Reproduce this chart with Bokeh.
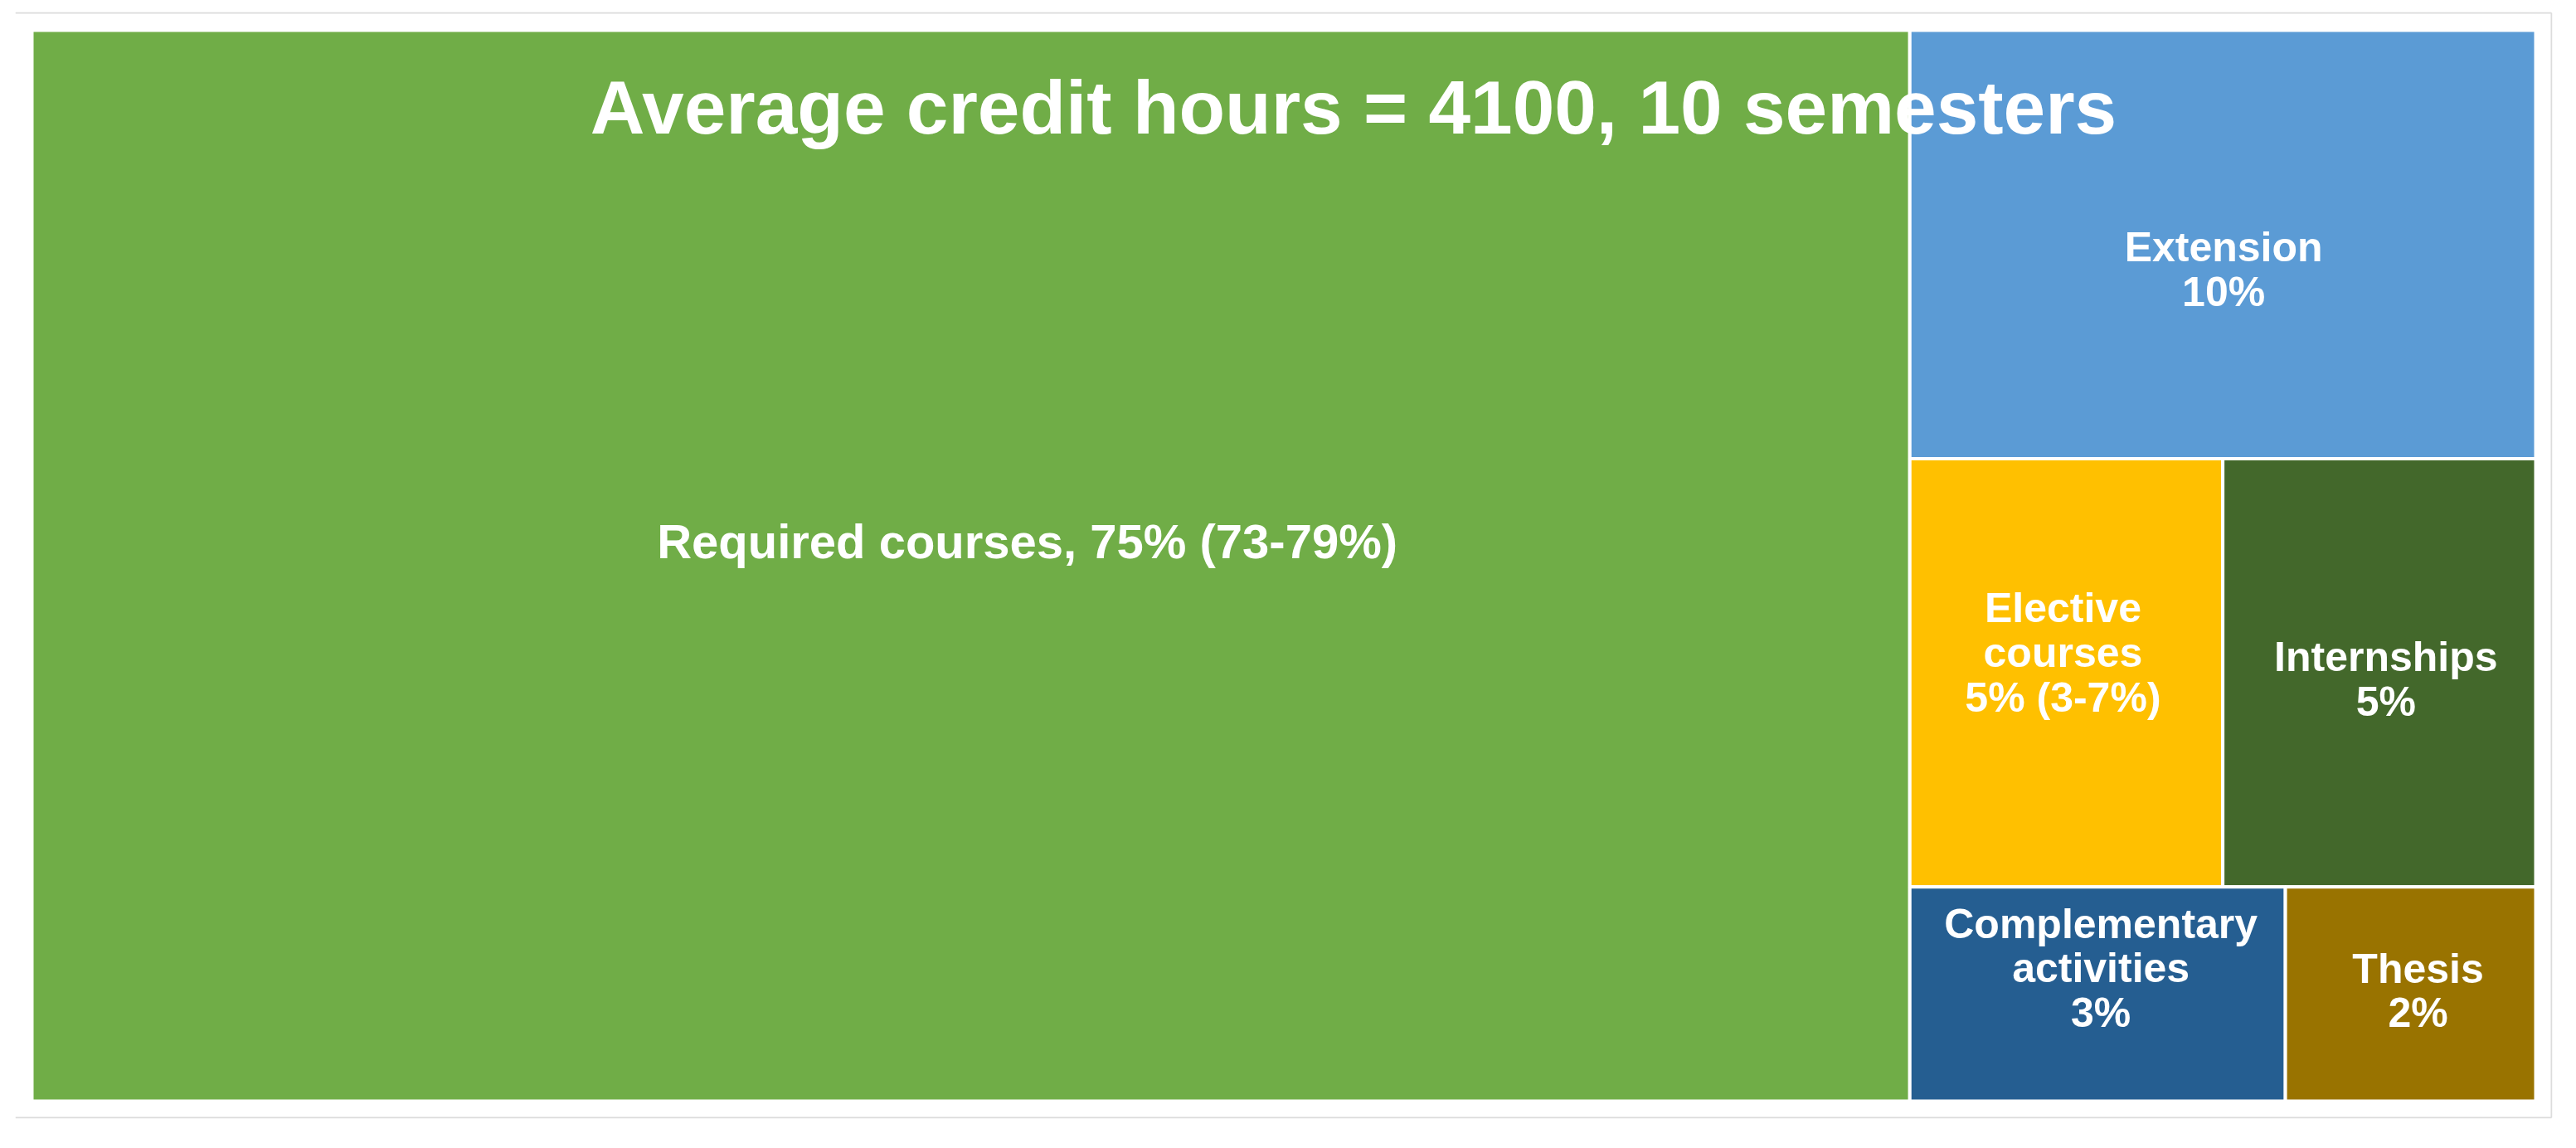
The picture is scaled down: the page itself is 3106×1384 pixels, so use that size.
from bokeh.plotting import figure
from bokeh.models import ColumnDataSource, Range1d
from bokeh.embed import file_html
from bokeh.resources import INLINE
from bokeh.core.properties import value

# ---- data ----
categories = ["Required courses", "Extension", "Elective courses",
              "Internships", "Complementary activities", "Thesis"]
shares = [75, 10, 5, 5, 3, 2]
label_texts = ["Required courses, 75% (73-79%)", "Extension\n10%",
               "Elective\ncourses\n5% (3-7%)", "Internships\n5%",
               "Complementary\nactivities\n3%", "Thesis\n2%"]
title_text = "Average credit hours = 4100, 10 semesters"

# ---- styles ----
colors = ["#70AD47", "#5B9BD5", "#FFC000", "#43682B", "#255E91", "#997300"]
font_sizes = ["58px", "50px", "50px", "50px", "50px", "50px"]
# label nudges in pixels (dx right, dy down) relative to tile centre
nudge_dx = [68, 1, -4, 8, 4, 9]
nudge_dy = [-30, 30, -24, 8, -31, -4]

TW, TH = 3019.0, 1291.0   # treemap area (1 unit = 1 px)


def worst(row, side):
    s = sum(row)
    return max(max(side * side * r / (s * s), (s * s) / (side * side * r)) for r in row)


def squarify(areas, x, y, w, h):
    rects = []
    areas = list(areas)
    while areas:
        side = min(w, h)
        row = [areas.pop(0)]
        while areas and worst(row + [areas[0]], side) <= worst(row, side):
            row.append(areas.pop(0))
        s = sum(row)
        if w >= h:
            rw = s / h
            yy = y
            for a in row:
                rh = a / rw
                rects.append((x, yy, rw, rh))
                yy += rh
            x += rw
            w -= rw
        else:
            rh = s / w
            xx = x
            for a in row:
                rw = a / rh
                rects.append((xx, y, rw, rh))
                xx += rw
            y += rh
            h -= rh
    return rects


total = float(sum(shares))
areas = [v / total * TW * TH for v in shares]
rects = squarify(areas, 0.0, 0.0, TW, TH)

left = [r[0] for r in rects]
right = [r[0] + r[2] for r in rects]
top = [TH - r[1] for r in rects]
bottom = [TH - r[1] - r[3] for r in rects]
cx = [(l + rr) / 2 + dx for l, rr, dx in zip(left, right, nudge_dx)]
cy = [(t + b) / 2 - dy for t, b, dy in zip(top, bottom, nudge_dy)]

src = ColumnDataSource(dict(left=left, right=right, top=top, bottom=bottom,
                            color=colors, cat=categories, val=shares,
                            lx=cx, ly=cy, label=label_texts, fs=font_sizes))

p = figure(width=3090, height=1368,
           x_range=Range1d(-20, TW + 20), y_range=Range1d(-21, TH + 22),
           output_backend="svg", toolbar_location=None,
           x_axis_location=None, y_axis_location=None,
           min_border_left=18, min_border_right=13,
           min_border_top=14, min_border_bottom=20)
p.grid.visible = False
p.outline_line_color = None
p.background_fill_color = "white"
p.border_fill_color = "white"

# light frame (top, right, bottom)
p.segment(x0=[-20, TW + 19, -20], y0=[TH + 21, TH + 21, -20],
          x1=[TW + 19, TW + 19, TW + 19], y1=[TH + 21, -20, -20],
          line_color="#dcdcdc", line_width=2)

p.quad(left="left", right="right", top="top", bottom="bottom", source=src,
       fill_color="color", line_color="white", line_width=4)

p.text(x="lx", y="ly", text="label", source=src,
       text_align="center", text_baseline="middle", text_color="white",
       text_font=value("Liberation Sans"), text_font_style="bold",
       text_font_size="fs", text_line_height=0.96)

p.text(x=[TW / 2 + 84], y=[TH - 93], text=[title_text],
       text_align="center", text_baseline="middle", text_color="white",
       text_font=value("Liberation Sans"), text_font_style="bold",
       text_font_size="91px")

open("out.html", "w").write(file_html(p, INLINE))
